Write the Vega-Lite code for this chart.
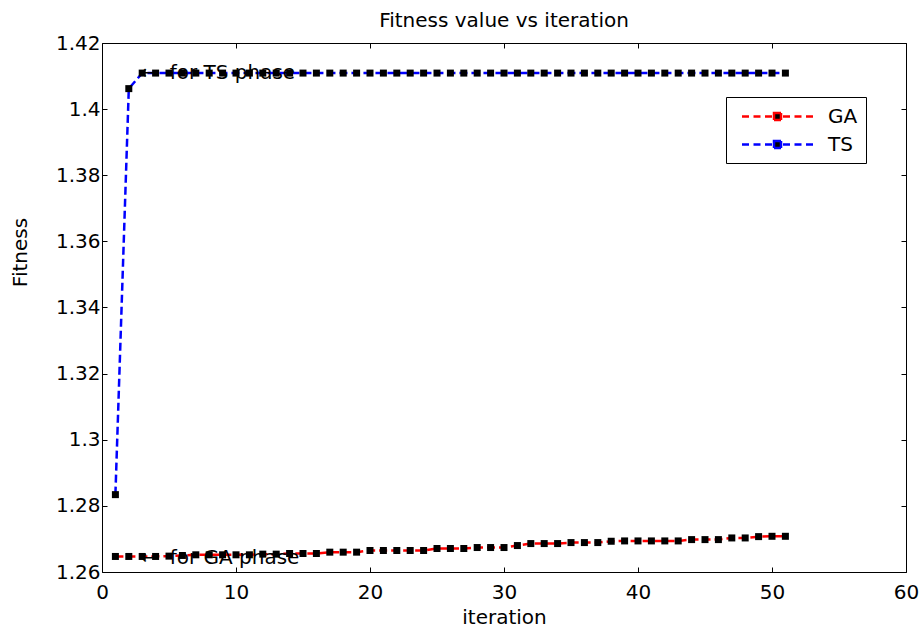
{
  "$schema": "https://vega.github.io/schema/vega-lite/v6.json",
  "width": 804,
  "height": 529,
  "autosize": "none",
  "padding": {"left": 102, "top": 43, "right": 16, "bottom": 57},
  "background": "white",
  "config": {
    "view": {"stroke": "black", "strokeWidth": 1},
    "font": "DejaVu Sans",
    "axis": {
      "domainColor": "black", "tickColor": "black", "labelColor": "black", "titleColor": "black",
      "labelFont": "DejaVu Sans", "labelFontSize": 20, "titleFont": "DejaVu Sans", "titleFontSize": 20,
      "titleFontWeight": "normal", "grid": false, "tickSize": -5, "labelFlush": false,
      "labelOverlap": false, "labelBound": false
    }
  },
  "title": {"text": "Fitness value vs iteration", "fontSize": 20, "fontWeight": "normal", "font": "DejaVu Sans", "baseline": "alphabetic", "offset": -14, "color": "black", "anchor": "middle", "frame": "group"},
  "datasets": {
    "fit": [
      {"series": "GA", "iteration": 1, "fitness": 1.2647},
      {"series": "GA", "iteration": 2, "fitness": 1.2647},
      {"series": "GA", "iteration": 3, "fitness": 1.2647},
      {"series": "GA", "iteration": 4, "fitness": 1.2647},
      {"series": "GA", "iteration": 5, "fitness": 1.2648},
      {"series": "GA", "iteration": 6, "fitness": 1.2650},
      {"series": "GA", "iteration": 7, "fitness": 1.2652},
      {"series": "GA", "iteration": 8, "fitness": 1.2652},
      {"series": "GA", "iteration": 9, "fitness": 1.2652},
      {"series": "GA", "iteration": 10, "fitness": 1.2652},
      {"series": "GA", "iteration": 11, "fitness": 1.2652},
      {"series": "GA", "iteration": 12, "fitness": 1.2654},
      {"series": "GA", "iteration": 13, "fitness": 1.2654},
      {"series": "GA", "iteration": 14, "fitness": 1.2656},
      {"series": "GA", "iteration": 15, "fitness": 1.2656},
      {"series": "GA", "iteration": 16, "fitness": 1.2656},
      {"series": "GA", "iteration": 17, "fitness": 1.2660},
      {"series": "GA", "iteration": 18, "fitness": 1.2660},
      {"series": "GA", "iteration": 19, "fitness": 1.2660},
      {"series": "GA", "iteration": 20, "fitness": 1.2665},
      {"series": "GA", "iteration": 21, "fitness": 1.2665},
      {"series": "GA", "iteration": 22, "fitness": 1.2665},
      {"series": "GA", "iteration": 23, "fitness": 1.2665},
      {"series": "GA", "iteration": 24, "fitness": 1.2665},
      {"series": "GA", "iteration": 25, "fitness": 1.2671},
      {"series": "GA", "iteration": 26, "fitness": 1.2671},
      {"series": "GA", "iteration": 27, "fitness": 1.2671},
      {"series": "GA", "iteration": 28, "fitness": 1.2674},
      {"series": "GA", "iteration": 29, "fitness": 1.2674},
      {"series": "GA", "iteration": 30, "fitness": 1.2674},
      {"series": "GA", "iteration": 31, "fitness": 1.2680},
      {"series": "GA", "iteration": 32, "fitness": 1.2686},
      {"series": "GA", "iteration": 33, "fitness": 1.2686},
      {"series": "GA", "iteration": 34, "fitness": 1.2686},
      {"series": "GA", "iteration": 35, "fitness": 1.2689},
      {"series": "GA", "iteration": 36, "fitness": 1.2689},
      {"series": "GA", "iteration": 37, "fitness": 1.2689},
      {"series": "GA", "iteration": 38, "fitness": 1.2693},
      {"series": "GA", "iteration": 39, "fitness": 1.2694},
      {"series": "GA", "iteration": 40, "fitness": 1.2694},
      {"series": "GA", "iteration": 41, "fitness": 1.2694},
      {"series": "GA", "iteration": 42, "fitness": 1.2694},
      {"series": "GA", "iteration": 43, "fitness": 1.2694},
      {"series": "GA", "iteration": 44, "fitness": 1.2698},
      {"series": "GA", "iteration": 45, "fitness": 1.2698},
      {"series": "GA", "iteration": 46, "fitness": 1.2698},
      {"series": "GA", "iteration": 47, "fitness": 1.2703},
      {"series": "GA", "iteration": 48, "fitness": 1.2703},
      {"series": "GA", "iteration": 49, "fitness": 1.2707},
      {"series": "GA", "iteration": 50, "fitness": 1.2708},
      {"series": "GA", "iteration": 51, "fitness": 1.2708},
      {"series": "TS", "iteration": 1, "fitness": 1.2834},
      {"series": "TS", "iteration": 2, "fitness": 1.4062},
      {"series": "TS", "iteration": 3, "fitness": 1.4109},
      {"series": "TS", "iteration": 4, "fitness": 1.4109},
      {"series": "TS", "iteration": 5, "fitness": 1.4109},
      {"series": "TS", "iteration": 6, "fitness": 1.4109},
      {"series": "TS", "iteration": 7, "fitness": 1.4109},
      {"series": "TS", "iteration": 8, "fitness": 1.4109},
      {"series": "TS", "iteration": 9, "fitness": 1.4109},
      {"series": "TS", "iteration": 10, "fitness": 1.4109},
      {"series": "TS", "iteration": 11, "fitness": 1.4109},
      {"series": "TS", "iteration": 12, "fitness": 1.4109},
      {"series": "TS", "iteration": 13, "fitness": 1.4109},
      {"series": "TS", "iteration": 14, "fitness": 1.4109},
      {"series": "TS", "iteration": 15, "fitness": 1.4109},
      {"series": "TS", "iteration": 16, "fitness": 1.4109},
      {"series": "TS", "iteration": 17, "fitness": 1.4109},
      {"series": "TS", "iteration": 18, "fitness": 1.4109},
      {"series": "TS", "iteration": 19, "fitness": 1.4109},
      {"series": "TS", "iteration": 20, "fitness": 1.4109},
      {"series": "TS", "iteration": 21, "fitness": 1.4109},
      {"series": "TS", "iteration": 22, "fitness": 1.4109},
      {"series": "TS", "iteration": 23, "fitness": 1.4109},
      {"series": "TS", "iteration": 24, "fitness": 1.4109},
      {"series": "TS", "iteration": 25, "fitness": 1.4109},
      {"series": "TS", "iteration": 26, "fitness": 1.4109},
      {"series": "TS", "iteration": 27, "fitness": 1.4109},
      {"series": "TS", "iteration": 28, "fitness": 1.4109},
      {"series": "TS", "iteration": 29, "fitness": 1.4109},
      {"series": "TS", "iteration": 30, "fitness": 1.4109},
      {"series": "TS", "iteration": 31, "fitness": 1.4109},
      {"series": "TS", "iteration": 32, "fitness": 1.4109},
      {"series": "TS", "iteration": 33, "fitness": 1.4109},
      {"series": "TS", "iteration": 34, "fitness": 1.4109},
      {"series": "TS", "iteration": 35, "fitness": 1.4109},
      {"series": "TS", "iteration": 36, "fitness": 1.4109},
      {"series": "TS", "iteration": 37, "fitness": 1.4109},
      {"series": "TS", "iteration": 38, "fitness": 1.4109},
      {"series": "TS", "iteration": 39, "fitness": 1.4109},
      {"series": "TS", "iteration": 40, "fitness": 1.4109},
      {"series": "TS", "iteration": 41, "fitness": 1.4109},
      {"series": "TS", "iteration": 42, "fitness": 1.4109},
      {"series": "TS", "iteration": 43, "fitness": 1.4109},
      {"series": "TS", "iteration": 44, "fitness": 1.4109},
      {"series": "TS", "iteration": 45, "fitness": 1.4109},
      {"series": "TS", "iteration": 46, "fitness": 1.4109},
      {"series": "TS", "iteration": 47, "fitness": 1.4109},
      {"series": "TS", "iteration": 48, "fitness": 1.4109},
      {"series": "TS", "iteration": 49, "fitness": 1.4109},
      {"series": "TS", "iteration": 50, "fitness": 1.4109},
      {"series": "TS", "iteration": 51, "fitness": 1.4109}
    ],
    "notes": [
      {"iteration": 2.85, "fitness": 1.4109, "label": "← \u00a0for TS phase"},
      {"iteration": 2.85, "fitness": 1.2643, "label": "← \u00a0for GA phase"}
    ]
  },
  "layer": [
    {
      "data": {"name": "fit"},
      "mark": {"type": "line", "strokeWidth": 2.5, "strokeDash": [8, 4], "clip": false},
      "encoding": {
        "x": {"field": "iteration", "type": "quantitative",
          "scale": {"domain": [0, 60], "nice": false, "zero": false},
          "axis": {"orient": "bottom", "values": [0, 10, 20, 30, 40, 50, 60], "format": "d", "labelPadding": 15, "title": "iteration", "titleX": 402, "titleY": 51, "titleBaseline": "alphabetic", "titleAnchor": "middle", "domain": false}},
        "y": {"field": "fitness", "type": "quantitative",
          "scale": {"domain": [1.26, 1.42], "nice": false, "zero": false},
          "axis": {"orient": "left", "values": [1.26, 1.28, 1.3, 1.32, 1.34, 1.36, 1.38, 1.4, 1.42], "format": "~g", "labelPadding": 7, "title": "Fitness", "titleX": -82, "titleY": 209, "titleBaseline": "middle", "titleAngle": -90, "titleAnchor": "middle", "domain": false}},
        "color": {"field": "series", "type": "nominal",
          "scale": {"domain": ["GA", "TS"], "range": ["#ff0000", "#0000ff"]},
          "legend": {"title": null, "orient": "none", "legendX": 624, "legendY": 54, "direction": "vertical",
            "symbolType": "M-3.55,0H-2.85M-2.4,0H-1.7M-1.25,0H-0.55M0.55,0H1.25M1.7,0H2.4M2.85,0H3.55M-0.35,-0.35H0.35V0.35H-0.35Z",
            "symbolSize": 400, "symbolStrokeWidth": 2.5, "symbolDash": [1, 0],
            "symbolOffset": 32, "labelOffset": 39, "labelFontSize": 20, "labelFont": "DejaVu Sans", "labelColor": "black",
            "strokeColor": "black", "fillColor": "white", "padding": 8, "rowPadding": 6,
            "encode": {"symbols": {"update": {"fill": {"value": "black"}}}}}}
      }
    },
    {
      "data": {"name": "fit"},
      "mark": {"type": "point", "shape": "square", "filled": true, "color": "black", "size": 49, "opacity": 1, "clip": false},
      "encoding": {
        "x": {"field": "iteration", "type": "quantitative", "axis": null},
        "y": {"field": "fitness", "type": "quantitative", "axis": null},
        "detail": {"field": "series"}
      }
    },
    {
      "data": {"name": "notes"},
      "mark": {"type": "text", "align": "left", "baseline": "middle", "fontSize": 20, "font": "DejaVu Sans", "color": "black"},
      "encoding": {
        "x": {"field": "iteration", "type": "quantitative", "axis": null},
        "y": {"field": "fitness", "type": "quantitative", "axis": null},
        "text": {"field": "label"}
      }
    },
    {
      "data": {"name": "fit"},
      "mark": {"type": "point", "opacity": 0},
      "encoding": {
        "x": {"field": "iteration", "type": "quantitative",
          "axis": {"orient": "top", "values": [0, 10, 20, 30, 40, 50, 60], "labels": false, "title": null, "domain": false}},
        "y": {"field": "fitness", "type": "quantitative",
          "axis": {"orient": "right", "values": [1.26, 1.28, 1.3, 1.32, 1.34, 1.36, 1.38, 1.4, 1.42], "labels": false, "title": null, "domain": false}}
      }
    }
  ],
  "resolve": {"axis": {"x": "independent", "y": "independent"}}
}
